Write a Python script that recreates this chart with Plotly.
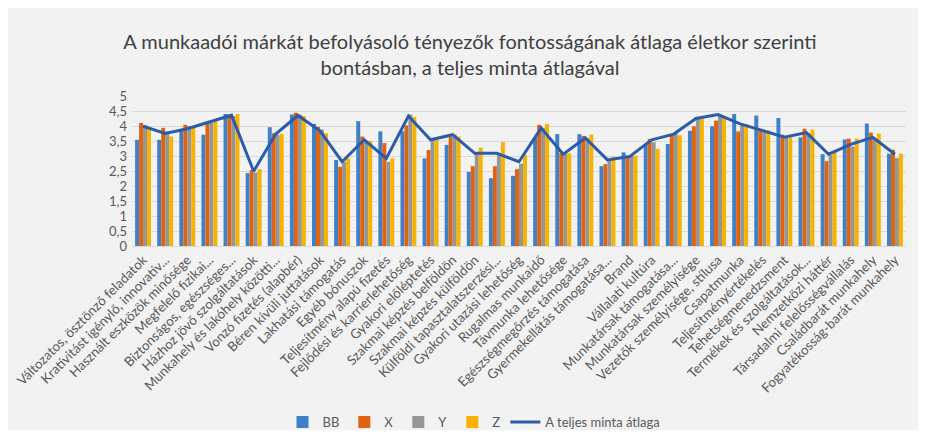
import plotly.graph_objects as go

categories = [
    "Változatos, ösztönző feladatok",
    "Kratívitást igénylő, innovatív...",
    "Használt eszközök minősége",
    "Megfelelő fizikai...",
    "Biztonságos, egészséges...",
    "Házhoz jövő szolgáltatások",
    "Munkahely és lakóhely közötti...",
    "Vonzó fizetés (alapbér)",
    "Béren kívüli juttatások",
    "Lakhatási támogatás",
    "Egyéb bónuszok",
    "Teljesítmény alapú fizetés",
    "Fejlődési és karrierlehetőség",
    "Gyakori előléptetés",
    "Szakmai képzés belföldön",
    "Szakmai képzés külföldön",
    "Külföldi tapasztalatszerzési...",
    "Gyakori utazási lehetőség",
    "Rugalmas munkaidő",
    "Távmunka lehetősége",
    "Egészségmegőrzés támogatása",
    "Gyermekellátás támogatása...",
    "Brand",
    "Vállalati kultúra",
    "Munkatársak támogatása...",
    "Munkatársak személyisége",
    "Vezetők személyisége, stílusa",
    "Csapatmunka",
    "Teljesítményértékelés",
    "Tehetségmenedzsment",
    "Termékek és szolgáltatások...",
    "Nemzetközi háttér",
    "Társadalmi felelősségvállalás",
    "Családbarát munkahely",
    "Fogyatékosság-barát munkahely",
]

bb = [3.54, 3.54, 3.88, 3.71, 4.40, 2.43, 3.96, 4.38, 4.07, 2.87, 4.16, 3.82, 3.82, 2.92, 3.37,
      2.47, 2.26, 2.34, 3.60, 3.73, 3.73, 2.66, 3.12, 3.39, 3.40, 3.84, 3.99, 4.40, 4.35, 4.27,
      3.62, 3.06, 3.55, 4.08, 3.08]
x_vals = [4.10, 3.94, 4.04, 4.07, 4.38, 2.53, 3.76, 4.44, 3.97, 2.64, 3.65, 3.43, 4.02, 3.20, 3.65,
          2.66, 2.66, 2.56, 4.04, 3.09, 3.67, 2.73, 2.98, 3.57, 3.71, 3.99, 4.18, 3.82, 3.91, 3.71,
          3.91, 2.83, 3.58, 3.78, 3.21]
y_vals = [4.02, 3.82, 3.99, 4.10, 4.33, 2.45, 3.71, 4.38, 3.88, 2.81, 3.48, 2.81, 4.38, 3.54, 3.71,
          3.09, 3.09, 2.74, 3.93, 3.09, 3.60, 2.83, 3.01, 3.46, 3.76, 4.29, 4.35, 4.02, 3.85, 3.65,
          3.76, 3.03, 3.32, 3.60, 2.93]
z_vals = [3.93, 3.65, 3.95, 4.16, 4.40, 2.56, 3.74, 4.33, 3.76, 2.92, 3.51, 2.92, 4.30, 3.54, 3.65,
          3.28, 3.46, 3.03, 4.07, 3.09, 3.71, 2.98, 3.01, 3.24, 3.69, 4.24, 4.29, 4.07, 3.85, 3.62,
          3.88, 3.12, 3.58, 3.75, 3.08]
avg = [3.99, 3.75, 3.91, 4.13, 4.36, 2.49, 3.73, 4.35, 3.84, 2.81, 3.54, 2.92, 4.33, 3.54, 3.71,
       3.09, 3.09, 2.81, 3.93, 3.06, 3.60, 2.87, 2.98, 3.54, 3.73, 4.25, 4.38, 4.07, 3.85, 3.63,
       3.78, 3.06, 3.39, 3.62, 3.06]

series_names = ["BB", "X", "Y", "Z"]
colors = ["#3f80c6", "#e0640f", "#969696", "#f6b300"]
line_name = "A teljes minta átlaga"
title = "A munkaadói márkát befolyásoló tényezők fontosságának átlaga életkor szerinti<br>bontásban, a teljes minta átlagával"

FONT = "Lato, sans-serif"

fig = go.Figure()
for name, vals, col in zip(series_names, [bb, x_vals, y_vals, z_vals], colors):
    fig.add_trace(go.Bar(x=categories, y=vals, name=name, marker_color=col,
                         marker_line_width=0))
fig.add_trace(go.Scatter(x=categories, y=avg, name=line_name, mode="lines",
                         line=dict(color="#2a5caa", width=3)))

# the page body keeps an 8px margin; the figure is sized to fit inside the window
OFF = 8
W, H = 926 - 2 * OFF, 438 - 2 * OFF
L, T = 132 - OFF, 96 - OFF
R, B = W - (906 - OFF), H - (246 - OFF)
PW, PH = W - L - R, H - T - B


def px_x(ref_x):
    return (ref_x - OFF - L) / PW


def cont_y(ref_y):
    return 1 - (ref_y - OFF) / H


fig.update_layout(
    width=W, height=H,
    margin=dict(l=L, r=R, t=T, b=B),
    paper_bgcolor="#f2f2f2",
    plot_bgcolor="#f2f2f2",
    separators=", ",
    barmode="group",
    bargap=0.28,
    bargroupgap=0.0,
    font=dict(family=FONT, size=12, color="#595959"),
    title=dict(text=title, x=(470 - OFF) / W, xref="container", xanchor="center",
               y=cont_y(49), yanchor="top",
               font=dict(family=FONT, size=20, color="#404040", weight=400)),
    legend=dict(orientation="h", x=px_x(474), xanchor="center",
                y=cont_y(422), yref="container", yanchor="middle",
                font=dict(size=13, color="#595959"), bgcolor="rgba(0,0,0,0)",
                itemwidth=30, tracegroupgap=0),
    xaxis=dict(tickangle=-45, showgrid=False, showline=True, linecolor="#d9d9d9",
               ticks="", tickfont=dict(size=13.3, color="#595959"), automargin=False),
    yaxis=dict(range=[0, 5], dtick=0.5, showgrid=True, gridcolor="#d9d9d9", gridwidth=1,
               zeroline=False, ticks="", ticklabelstandoff=4,
               tickfont=dict(size=13, color="#595959"), automargin=False),
)

fig.write_html("out.html")
